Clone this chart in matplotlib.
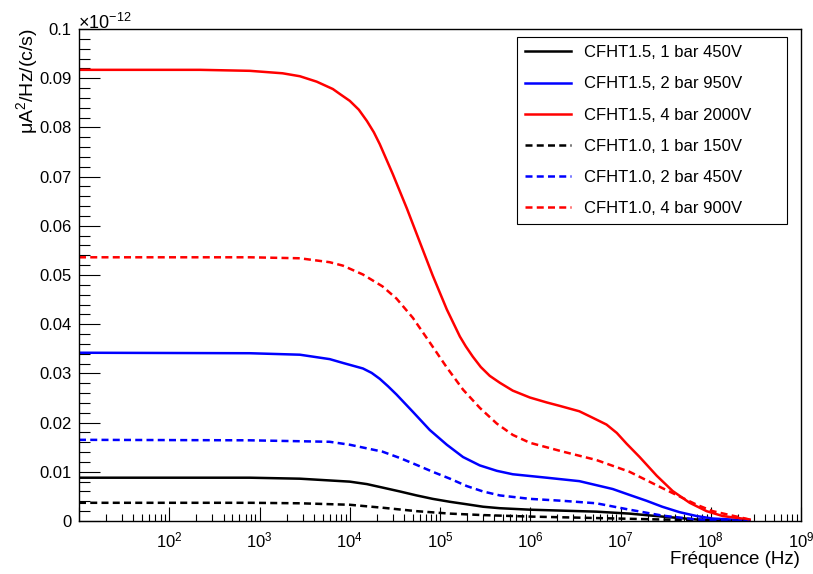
import numpy as np
import matplotlib
matplotlib.use("Agg")
import matplotlib.pyplot as plt
from matplotlib.ticker import FixedLocator, FuncFormatter, LogLocator, LogFormatterSciNotation, NullFormatter

plt.rcParams['font.family'] = ['Liberation Sans', 'DejaVu Sans']
plt.rcParams['mathtext.fontset'] = 'custom'
plt.rcParams['mathtext.rm'] = 'Liberation Sans'
plt.rcParams['mathtext.it'] = 'Liberation Sans:italic'
plt.rcParams['mathtext.bf'] = 'Liberation Sans:bold'

# ---------------------- données (unités 1e-12) ----------------------
f_red15 = [1e1, 2.2e2, 7.8e2, 1.8e3, 2.8e3, 4.3e3, 6.5e3, 7.9e3, 1.0e4, 1.26e4, 1.55e4, 1.85e4,
           2.15e4, 3.0e4, 4.3e4, 6.0e4, 8.3e4, 1.19e5, 1.66e5, 1.93e5, 2.31e5, 2.83e5, 3.56e5,
           4.6e5, 6.4e5, 9.9e5, 1.52e6, 2.12e6, 3.5e6, 4.9e6, 7.0e6, 9.1e6, 1.17e7, 1.63e7,
           2.52e7, 3.78e7, 5.84e7, 9.0e7, 1.36e8, 2.7e8]
v_red15 = [0.0917, 0.0917, 0.0915, 0.0910, 0.0904, 0.0893, 0.0878, 0.0867, 0.0854, 0.0836, 0.0813, 0.0790,
           0.0766, 0.0705, 0.0635, 0.0566, 0.0499, 0.0430, 0.0375, 0.0355, 0.0334, 0.0313, 0.0295,
           0.0281, 0.0265, 0.0251, 0.0241, 0.0234, 0.0223, 0.0210, 0.0196, 0.0179, 0.0157, 0.0130,
           0.0092, 0.0061, 0.0037, 0.0020, 0.0010, 0.0003]

f_blue15 = [1e1, 7.8e2, 2.8e3, 6.0e3, 8.5e3, 1.4e4, 1.75e4, 2.15e4, 2.65e4, 3.3e4, 5.0e4, 7.7e4,
            1.19e5, 1.8e5, 2.76e5, 4.26e5, 6.4e5, 1.52e6, 3.5e6, 8.2e6, 1.26e7, 1.95e7, 2.9e7,
            4.5e7, 7.0e7, 1.05e8, 2.7e8]
v_blue15 = [0.0342, 0.0341, 0.0338, 0.0329, 0.0321, 0.0310, 0.0301, 0.0289, 0.0274, 0.0257, 0.0222, 0.0185,
            0.0155, 0.0130, 0.0113, 0.0102, 0.0095, 0.0088, 0.0081, 0.0065, 0.0053, 0.0041, 0.0029,
            0.0018, 0.0010, 0.0005, 0.0001]

f_black15 = [1e1, 7.8e2, 2.8e3, 1.0e4, 1.55e4, 2.3e4, 3.6e4, 5.5e4, 8.3e4, 1.29e5, 1.98e5,
             3.0e5, 4.6e5, 9.9e5, 2.3e6, 5.4e6, 1.26e7, 2.9e7, 7.0e7, 2.7e8]
v_black15 = [0.0088, 0.0088, 0.0086, 0.0080, 0.0075, 0.0068, 0.0060, 0.0052, 0.0045, 0.0039, 0.0034,
             0.0029, 0.0026, 0.0023, 0.0021, 0.0019, 0.0015, 0.0009, 0.0003, 0.0]

f_red10 = [1e1, 7.8e2, 2.8e3, 6.0e3, 8.4e3, 1.4e4, 2.3e4, 3.3e4, 5.0e4, 7.7e4, 1.19e5,
           1.8e5, 2.76e5, 4.26e5, 6.4e5, 9.9e5, 2.3e6, 5.4e6, 1.26e7, 2.9e7, 7.0e7,
           1.05e8, 2.7e8]
v_red10 = [0.0536, 0.0536, 0.0534, 0.0526, 0.0519, 0.0501, 0.0477, 0.0452, 0.0413, 0.0363, 0.0312,
           0.0267, 0.0230, 0.0198, 0.0175, 0.0159, 0.0141, 0.0124, 0.0100, 0.0067, 0.0033,
           0.0020, 0.0003]

f_blue10 = [1e1, 7.8e2, 6.0e3, 1.0e4, 2.3e4, 3.6e4, 5.5e4, 8.3e4, 1.29e5, 1.98e5, 3.0e5,
            4.6e5, 9.9e5, 2.3e6, 5.4e6, 1.26e7, 2.9e7, 7.0e7, 2.7e8]
v_blue10 = [0.0165, 0.0164, 0.0161, 0.0155, 0.0141, 0.0128, 0.0114, 0.0100, 0.0086, 0.0071, 0.0060,
            0.0052, 0.0045, 0.0041, 0.0036, 0.0023, 0.0011, 0.0003, 0.0]

f_black10 = [1e1, 7.8e2, 2.8e3, 1.0e4, 2.3e4, 5.5e4, 1.29e5, 3.0e5, 9.9e5, 5.4e6, 2.9e7, 2.7e8]
v_black10 = [0.0037, 0.0037, 0.0036, 0.0033, 0.0027, 0.0020, 0.0015, 0.0012, 0.0009, 0.0006, 0.0003, 0.0]

labels = ["CFHT1.5, 1 bar 450V", "CFHT1.5, 2 bar 950V", "CFHT1.5, 4 bar 2000V",
          "CFHT1.0, 1 bar 150V", "CFHT1.0, 2 bar 450V", "CFHT1.0, 4 bar 900V"]
y_ticks = [0, 0.01, 0.02, 0.03, 0.04, 0.05, 0.06, 0.07, 0.08, 0.09, 0.1]
# -----------------------------------------------------------------------------------------

W, H = 813, 574
fig = plt.figure(figsize=(W / 100, H / 100), dpi=100)
ax = fig.add_axes([79 / W, 1 - 521 / H, 722 / W, 492 / H])

lw = 1.8
dash = (0, (2.8, 1.7))
series = [
    (f_black15, v_black15, "black", "-"),
    (f_blue15, v_blue15, "blue", "-"),
    (f_red15, v_red15, "red", "-"),
    (f_black10, v_black10, "black", dash),
    (f_blue10, v_blue10, "blue", dash),
    (f_red10, v_red10, "red", dash),
]
for (f, v, c, ls), lab in zip(series, labels):
    ax.plot(f, v, color=c, ls=ls, lw=lw, label=lab, solid_joinstyle="round")

ax.set_xscale("log")
ax.set_xlim(1e1, 1e9)
ax.set_ylim(0, 0.1)

ax.xaxis.set_major_locator(LogLocator(base=10, numticks=20))
ax.xaxis.set_minor_locator(LogLocator(base=10, subs=np.arange(2, 10), numticks=50))
ax.xaxis.set_major_formatter(FuncFormatter(lambda x, p: "" if x < 50 else LogFormatterSciNotation()(x, p)))
ax.xaxis.set_minor_formatter(NullFormatter())

ax.yaxis.set_major_locator(FixedLocator(y_ticks))
ax.yaxis.set_minor_locator(FixedLocator(np.arange(0, 0.1001, 0.002)))
ax.yaxis.set_major_formatter(FuncFormatter(lambda y, p: "%g" % round(y, 3)))

ax.tick_params(axis="both", which="both", direction="in", top=False, right=False,
               labelsize=12, width=0.8, colors="black")
ax.tick_params(axis="y", which="major", length=15, pad=5.5)
ax.tick_params(axis="y", which="minor", length=8)
ax.tick_params(axis="x", which="major", length=10, pad=7)
ax.tick_params(axis="x", which="minor", length=5)
for s in ax.spines.values():
    s.set_linewidth(1.0)

leg = ax.legend(loc="upper left", bbox_to_anchor=((517 - 79) / 722, 0.0, (787 - 517) / 722, (521 - 37) / 492),
                mode="expand", fontsize=12, frameon=True, fancybox=False, framealpha=1,
                edgecolor="black", handlelength=2.75, handletextpad=0.75, labelspacing=0.97,
                borderpad=0.5, borderaxespad=0.0)
leg.get_frame().set_linewidth(0.8)

fig.text(78 / W, 1 - 29 / H, r"$\times$10$^{-12}$", fontsize=13, ha="left", va="baseline")
fig.text(800 / W, 1 - 559 / H, "Fréquence (Hz)", fontsize=13.5, ha="right", va="center")
fig.text(27 / W, 1 - 28 / H, r"μA$^{2}$/Hz/(c/s)", fontsize=14, ha="center", va="top", rotation=90)

fig.savefig("out.png", dpi=100)
